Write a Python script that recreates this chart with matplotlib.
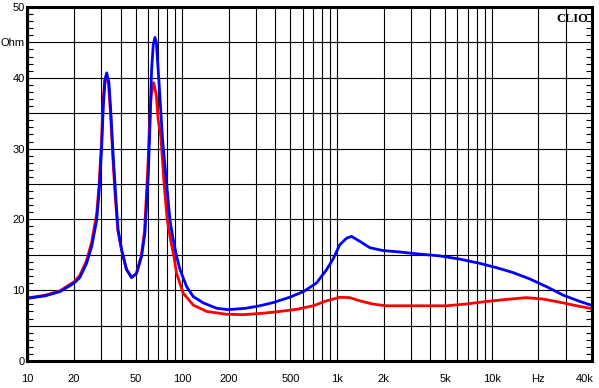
import numpy as np
import matplotlib.pyplot as plt

# impedance curves (Hz, Ohm)
freq_blue = [10, 13, 16.2, 20, 21.8, 24.1, 26.0, 28.0, 29.1, 30.1, 30.9, 31.7, 32.5, 33.6,
             34.6, 35.8, 37.3, 38.5, 40.6, 43.7, 47.1, 50.7, 54.6, 57.4, 60.4, 61.8, 63.4,
             65.0, 66.7, 68.1, 71.3, 74.6, 79.2, 83.3, 87.5, 91.9, 96.8, 106.8, 117.8, 136.9,
             166.8, 198, 258, 317, 387, 494, 607, 736, 857, 949, 1041, 1155, 1242, 1405,
             1633, 1985, 2540, 3419, 4603, 6196, 8340, 10680, 13700, 17600, 22600, 29000,
             37300, 44500]
z_blue = [8.85, 9.2, 9.8, 11.0, 11.8, 13.8, 16.2, 19.9, 24.2, 29.8, 36.0, 39.7, 40.7, 39.3,
          35.0, 28.9, 22.8, 18.5, 15.7, 12.9, 11.8, 12.4, 14.8, 18.1, 26.5, 33.1, 41.2,
          44.7, 45.7, 44.9, 38.3, 31.3, 25.1, 19.9, 17.1, 14.8, 12.9, 10.5, 9.1, 8.2,
          7.45, 7.25, 7.45, 7.8, 8.25, 9.0, 9.8, 11.0, 12.9, 14.5, 16.4, 17.35, 17.6, 16.9,
          16.0, 15.6, 15.4, 15.1, 14.85, 14.4, 13.8, 13.2, 12.5, 11.6, 10.5, 9.3,
          8.4, 7.85]

freq_red = [10, 13, 16.2, 20, 21.8, 24.1, 26.0, 28.0, 29.0, 30.0, 30.8, 31.5, 32.3, 33.4,
            34.4, 35.6, 37.0, 38.3, 40.5, 43.5, 47.0, 50.5, 54.3, 57.0, 60.0, 61.5, 63.0,
            65.5, 68.1, 69.9, 72.7, 76.3, 80, 84.1, 88.3, 91.9, 101.3, 117.8, 144, 193, 250,
            334, 428, 549, 702, 857, 1041, 1212, 1405, 1700, 2070, 2540, 3094, 5090, 6850,
            9200, 12440, 16750, 21500, 27600, 37300, 44500]
z_red = [8.9, 9.3, 9.9, 11.2, 12.1, 14.2, 16.8, 20.8, 24.8, 30.5, 36.5, 39.6, 40.3, 39.0,
         35.0, 28.8, 22.8, 18.6, 15.7, 13.0, 11.8, 12.3, 14.8, 18.2, 27.5, 33.5, 37.5,
         39.3, 37.4, 34.1, 31.7, 25.1, 19.9, 17.1, 14.8, 12.4, 9.6, 7.9, 7.0, 6.6, 6.55,
         6.75, 7.0, 7.3, 7.8, 8.5, 9.0, 8.95, 8.5, 8.05, 7.8, 7.8, 7.8, 7.8, 8.05,
         8.4, 8.7, 8.95, 8.75, 8.3, 7.7, 7.4]

x_labels = {10: '10', 20: '20', 50: '50', 100: '100', 200: '200', 500: '500',
            1000: '1k', 2000: '2k', 5000: '5k', 10000: '10k', 20000: 'Hz', 40000: '40k'}
y_labels = {0: '0', 10: '10', 20: '20', 30: '30', 40: '40', 45: 'Ohm', 50: '50'}

plt.rcParams['font.family'] = ['Liberation Sans', 'DejaVu Sans']
W, H = 599, 388
fig = plt.figure(figsize=(W / 100, H / 100), dpi=100)
ax = fig.add_axes([27.5 / W, 27 / H, (592 - 27.5) / W, (361 - 7) / H])

ax.plot(freq_red, z_red, color='#ff0000', lw=2, zorder=3)
ax.plot(freq_blue, z_blue, color='#0000ff', lw=2, zorder=4)

ax.set_xscale('log')
ax.set_xlim(10, 44500)
ax.set_ylim(0, 50)

# x grid at every 1..9 x decade, plus 40k for its label
xt = [m * 10 ** d for d in range(1, 5) for m in range(1, 10)] + [40000]
xt = sorted(set(t for t in xt if t <= 40000))
ax.set_xticks(xt)
ax.set_xticklabels([x_labels.get(t, '') for t in xt], fontsize=8)
ax.xaxis.set_minor_locator(plt.NullLocator())

yt = list(range(0, 51, 5))
ax.set_yticks(yt)
ax.set_yticklabels([y_labels.get(t, '') for t in yt], fontsize=8)
ax.set_yticks(range(0, 51), minor=True)

ax.grid(True, which='major', color='black', lw=0.8)
for t, gl in zip(xt, ax.get_xgridlines()):
    if t == 40000:
        gl.set_visible(False)

ax.tick_params(axis='x', which='major', length=0, pad=9, colors='black')
ax.tick_params(axis='y', which='major', length=0, pad=2, colors='black')
ax.tick_params(axis='y', which='minor', direction='in', length=4, width=0.8,
               left=True, right=True)

for s in ax.spines.values():
    s.set_linewidth(2.2)
    s.set_zorder(5)

ax.text(0.994, 0.982, 'CLIO', transform=ax.transAxes, ha='right', va='top',
        fontsize=9, fontweight='bold', family='Liberation Serif', zorder=6)

fig.savefig('out.png', dpi=100)
